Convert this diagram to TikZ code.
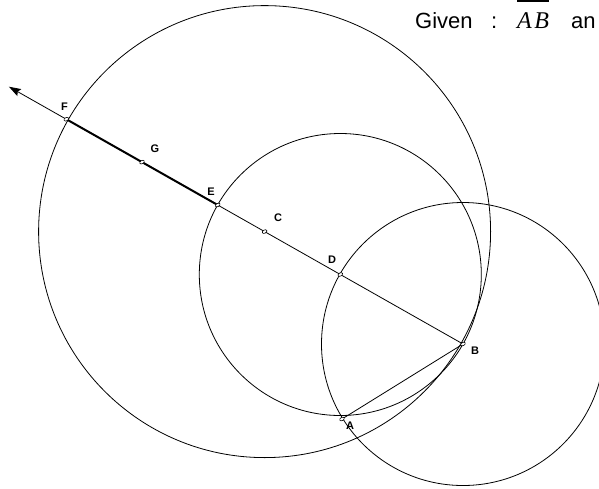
\documentclass[tikz,border=0pt]{standalone}
\usepackage{fontspec}
\setmainfont{Liberation Sans}
\newfontfamily\serifit{Liberation Serif}
\usetikzlibrary{arrows.meta,shapes.geometric}
\begin{document}
\begin{tikzpicture}[x=1pt,y=-1pt,
  thin line/.style={line width=0.8pt, black},
  thick seg/.style={line width=2pt, black},
  ptmark/.style={ellipse, draw, fill=white, line width=0.6pt, minimum width=5pt, minimum height=3.2pt, inner sep=0pt, rotate=29.5},
  lbl/.style={font=\fontsize{11}{11}\selectfont\bfseries, inner sep=0pt}]
\useasboundingbox (0,0) rectangle (599,488);
\clip (0,0) rectangle (599,488);
% points
\coordinate (A) at (342,419);
\coordinate (B) at (463,344);
\coordinate (D) at (340.3,274.5);
\coordinate (C) at (264.6,231.6);
\coordinate (E) at (217.7,205.0);
\coordinate (G) at (142.0,162.1);
\coordinate (F) at (66.3,119.2);
\coordinate (T) at (8.9,86.7);
% circles
\draw[thin line] (B) circle (141.5pt);
\draw[thin line] (D) circle (141pt);
\draw[thin line] (C) circle (226pt);
% lines
\draw[thin line] (A) -- (B);
\draw[thin line, -{Stealth[length=12pt,width=8pt,inset=2pt]}] (B) -- (T);
\draw[thick seg] (F) -- (E);
% markers
\foreach \p in {A,B,C,D,E,F,G} \node[ptmark] at (\p) {};
% labels
\node[lbl] (lA) at (350,426) {A};
\node[lbl] (lB) at (475,351) {B};
\node[lbl] (lC) at (278,218) {C};
\node[lbl] (lD) at (332,260) {D};
\node[lbl] (lE) at (211,192) {E};
\node[lbl] (lF) at (64.5,106.5) {F};
\node[lbl] (lG) at (155,149) {G};
% title
\node[anchor=base west, inner sep=0pt] (title) at (415,28)
  {\fontsize{22}{22}\selectfont\rlap{Given}\hspace{76pt}\rlap{:}\hspace{26pt}%
   \rlap{\vbox{\hrule height 2.2pt\kern 10pt\hbox{\fontsize{24}{24}\serifit\itshape A\kern 2.5pt B}}}%
   \hspace{54pt}an};
\end{tikzpicture}
\end{document}
